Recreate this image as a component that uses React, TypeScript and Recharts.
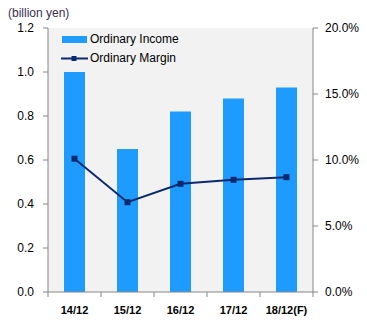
import React from "react";
import { ComposedChart, Bar, Line, XAxis, YAxis } from "recharts";

const periods = ["14/12", "15/12", "16/12", "17/12", "18/12(F)"];
const ordinaryIncome = [1.0, 0.65, 0.82, 0.88, 0.93];
const ordinaryMargin = [10.1, 6.8, 8.2, 8.5, 8.7];
const incomeTicks = [0, 0.2, 0.4, 0.6, 0.8, 1.0, 1.2];
const marginTicks = [0, 5, 10, 15, 20];

const BAR_COLOR = "#1e9bff";
const LINE_COLOR = "#0b2a6e";
const AXIS_COLOR = "#868686";
const FONT = "'Liberation Sans', Arial, sans-serif";

const chartData = periods.map((p, i) => ({
  period: p,
  income: ordinaryIncome[i],
  margin: ordinaryMargin[i],
}));

function SquareDot(props: any) {
  const { cx, cy } = props;
  if (cx == null || cy == null) return null;
  return <rect x={cx - 3} y={cy - 3} width={6} height={6} fill={LINE_COLOR} />;
}

function CategoryTick(props: any) {
  const { x, y, payload, index } = props;
  const half = payload && payload.offset ? payload.offset : 26.5;
  return (
    <g>
      <line x1={x - half} y1={y - 8} x2={x - half} y2={y - 3} stroke={AXIS_COLOR} />
      {index === periods.length - 1 && (
        <line x1={x + half} y1={y - 8} x2={x + half} y2={y - 3} stroke={AXIS_COLOR} />
      )}
      <text
        x={x}
        y={y + 14}
        textAnchor="middle"
        fontFamily={FONT}
        fontSize={11}
        fontWeight="bold"
        fill="#000"
      >
        {payload.value}
      </text>
    </g>
  );
}

function LegendBox() {
  return (
    <div style={{ fontFamily: FONT, fontSize: 12, color: "#000", lineHeight: "19px" }}>
      <div style={{ display: "flex", alignItems: "center" }}>
        <svg width={28} height={19}>
          <rect x={1} y={6} width={25} height={7} fill={BAR_COLOR} />
        </svg>
        <span style={{ marginLeft: 1 }}>Ordinary Income</span>
      </div>
      <div style={{ display: "flex", alignItems: "center" }}>
        <svg width={28} height={19}>
          <line x1={0} y1={9.5} x2={27} y2={9.5} stroke={LINE_COLOR} strokeWidth={2} />
          <rect x={10.5} y={7} width={5} height={5} fill={LINE_COLOR} />
        </svg>
        <span style={{ marginLeft: 1 }}>Ordinary Margin</span>
      </div>
    </div>
  );
}

export default function App() {
  return (
    <div style={{ position: "absolute", left: 0, top: 0, width: 367, height: 328, background: "#fff" }}>
      {/* plot area fill, Excel style */}
      <div style={{ position: "absolute", left: 48, top: 28, width: 265, height: 264, background: "#f2f2f2" }} />
      <div
        style={{
          position: "absolute",
          left: 8,
          top: 6,
          fontFamily: FONT,
          fontSize: 12,
          color: "#3a2e52",
        }}
      >
        (billion yen)
      </div>
      <div style={{ position: "absolute", left: 0, top: 0 }}>
        <ComposedChart
          width={367}
          height={328}
          data={chartData}
          margin={{ top: 28, right: 0, left: 0, bottom: 0 }}
        >
          <XAxis
            dataKey="period"
            height={36}
            axisLine={{ stroke: AXIS_COLOR }}
            tickLine={false}
            tick={<CategoryTick />}
            interval={0}
          />
          <YAxis
            yAxisId="left"
            width={48}
            domain={[0, 1.2]}
            ticks={incomeTicks}
            tickFormatter={(v: number) => v.toFixed(1)}
            axisLine={{ stroke: AXIS_COLOR }}
            tickLine={{ stroke: AXIS_COLOR }}
            tickSize={5}
            tickMargin={9}
            tick={{ fill: "#000", fontSize: 12, fontFamily: FONT }}
          />
          <YAxis
            yAxisId="right"
            orientation="right"
            width={54}
            domain={[0, 20]}
            ticks={marginTicks}
            tickFormatter={(v: number) => `${v.toFixed(1)}%`}
            axisLine={{ stroke: AXIS_COLOR }}
            tickLine={{ stroke: AXIS_COLOR }}
            tickSize={5}
            tickMargin={7}
            tick={{ fill: "#000", fontSize: 12, fontFamily: FONT }}
          />
          <Bar
            yAxisId="left"
            dataKey="income"
            name="Ordinary Income"
            fill={BAR_COLOR}
            barSize={21}
            isAnimationActive={false}
          />
          <Line
            yAxisId="right"
            dataKey="margin"
            name="Ordinary Margin"
            stroke={LINE_COLOR}
            strokeWidth={2}
            dot={<SquareDot />}
            activeDot={false}
            type="linear"
            isAnimationActive={false}
          />
        </ComposedChart>
      </div>
      <div style={{ position: "absolute", left: 61, top: 30 }}>
        <LegendBox />
      </div>
    </div>
  );
}
